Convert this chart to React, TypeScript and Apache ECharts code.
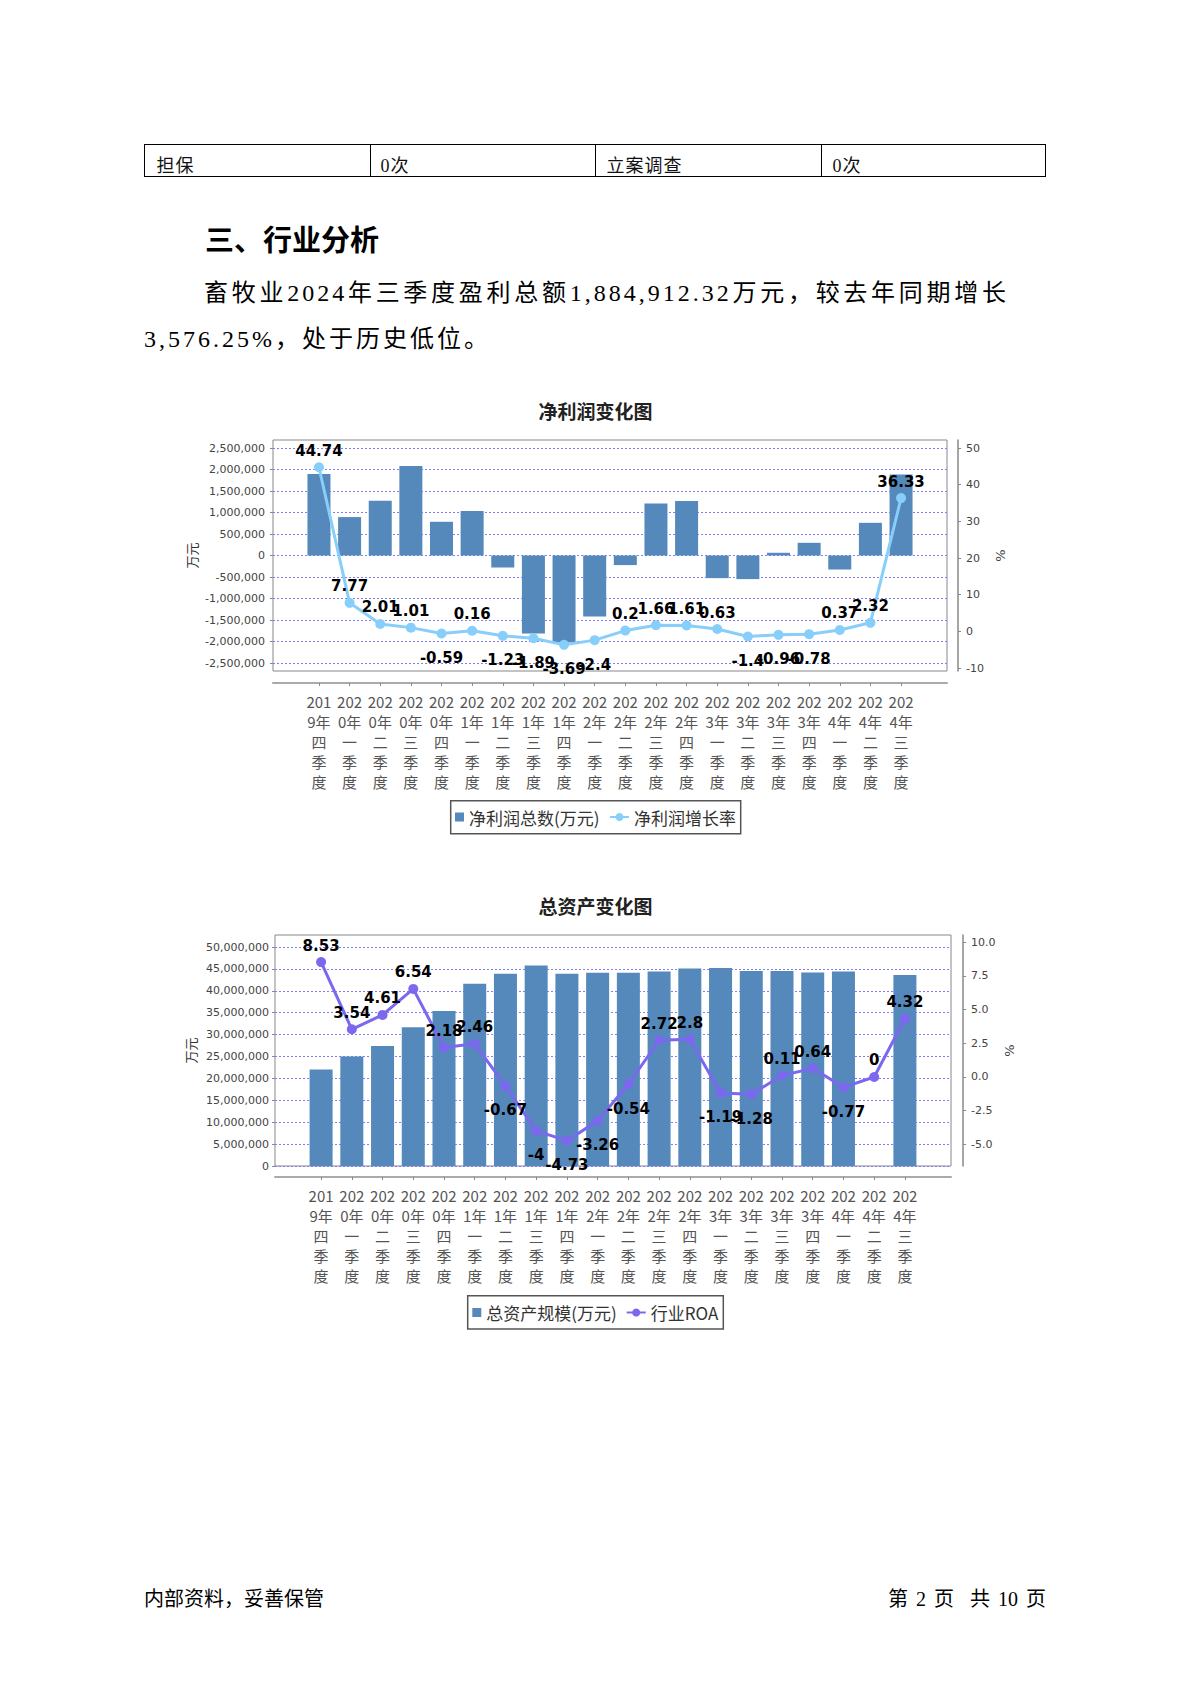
import React, { useEffect, useRef } from "react";
import * as echarts from "echarts";

const quarters = [
  "2019年四季度", "2020年一季度", "2020年二季度", "2020年三季度", "2020年四季度",
  "2021年一季度", "2021年二季度", "2021年三季度", "2021年四季度", "2022年一季度",
  "2022年二季度", "2022年三季度", "2022年四季度", "2023年一季度", "2023年二季度",
  "2023年三季度", "2023年四季度", "2024年一季度", "2024年二季度", "2024年三季度",
];

const netProfit = [
  1893000, 893000, 1272000, 2079000, 784000, 1033000, -279000, -1814000, -2025000, -1419000,
  -223000, 1209000, 1265000, -526000, -549000, 63000, 295000, -326000, 760000, 1884912.32,
];
const netProfitGrowth = [
  44.74, 7.77, 2.01, 1.01, -0.59, 0.16, -1.23, -1.89, -3.69, -2.4,
  0.2, 1.66, 1.61, 0.63, -1.4, -0.96, -0.78, 0.37, 2.32, 36.33,
];
const totalAssets = [
  22050000, 25000000, 27400000, 31700000, 35400000, 41600000, 43900000, 45800000, 43900000, 44100000,
  44100000, 44400000, 45100000, 45200000, 44500000, 44500000, 44200000, 44400000, null, 43600000,
];
const industryROA = [
  8.53, 3.54, 4.61, 6.54, 2.18, 2.46, -0.67, -4, -4.73, -3.26,
  -0.54, 2.72, 2.8, -1.19, -1.28, 0.11, 0.64, -0.77, 0, 4.32,
];

// [min, max, interval]
const profitAxisRange = [-2500000, 2500000, 500000];
const profitRateAxisRange = [-10, 50, 10];
const assetAxisRange = [0, 50000000, 5000000];
const roaAxisRange = [-5, 10, 2.5];

const CJK = "Noto Sans CJK SC";
const padded = [" ", ...quarters, "  "];
const pad = (arr: any[]) => [null, ...arr, null];
const thousands = (v: number) => String(v).replace(/\B(?=(\d{3})+(?!\d))/g, ",");

function wrapLabel(s: string) {
  const lines: string[] = [];
  let cur = "";
  let w = 0;
  for (const ch of s) {
    const cw = /[\u4e00-\u9fff]/.test(ch) ? 15 : 8.5;
    if (cur && w + cw > 28) {
      lines.push(cur);
      cur = ch;
      w = cw;
    } else {
      cur += ch;
      w += cw;
    }
  }
  if (cur) lines.push(cur);
  return lines.join("\n");
}

const chartDefs = [
  {
    title: "净利润变化图", titleTop: 400,
    barName: "净利润总数(万元)", lineName: "净利润增长率",
    bars: netProfit, line: netProfitGrowth,
    barRange: profitAxisRange, lineRange: profitRateAxisRange,
    lineColor: "#87cefa",
    frame: { left: 273, top: 440, width: 674, height: 231 },
    barGrid: { top: 448, height: 215 },
    lineGrid: { top: 448, height: 220 },
    xOffset: 12, rOffset: 11, leftNameGap: 75, rightNameGap: 36, leftMargin: 8,
    rightFmt: (v: number) => String(v),
    legend: { top: 807, barLeft: 455, lineLeft: 609, box: [450.7, 800.7, 290, 33] },
  },
  {
    title: "总资产变化图", titleTop: 895,
    barName: "总资产规模(万元)", lineName: "行业ROA",
    bars: totalAssets, line: industryROA,
    barRange: assetAxisRange, lineRange: roaAxisRange,
    lineColor: "#7b68ee",
    frame: { left: 275, top: 935, width: 676, height: 231 },
    barGrid: { top: 947, height: 219 },
    lineGrid: { top: 942.3, height: 202 },
    xOffset: 11, rOffset: 12, leftNameGap: 78, rightNameGap: 40, leftMargin: 6,
    rightFmt: (v: number) => v.toFixed(1),
    legend: { top: 1302.5, barLeft: 472.3, lineLeft: 625.7, box: [467.7, 1295.7, 255.6, 33.3] },
  },
];

function buildOption() {
  const grid: any[] = [];
  const xAxis: any[] = [];
  const yAxis: any[] = [];
  const series: any[] = [];
  const legend: any[] = [];
  const title: any[] = [];
  const graphic: any[] = [];

  chartDefs.forEach((c) => {
    const gi = grid.length;
    const yi = yAxis.length;
    const f = c.frame;
    grid.push({ left: f.left, width: f.width, top: c.barGrid.top, height: c.barGrid.height });
    grid.push({ left: f.left, width: f.width, top: c.lineGrid.top, height: c.lineGrid.height });
    grid.push({
      left: f.left, width: f.width, top: f.top, height: f.height,
      show: true, borderColor: "#888", borderWidth: 1, backgroundColor: "rgba(0,0,0,0)",
    });

    xAxis.push({ type: "category", gridIndex: gi, data: padded, show: false });
    xAxis.push({ type: "category", gridIndex: gi + 1, data: padded, show: false });
    xAxis.push({
      type: "category", gridIndex: gi + 2, data: padded, position: "bottom", offset: c.xOffset,
      axisLine: { show: true, onZero: false, lineStyle: { color: "#aaa", width: 2 } },
      axisTick: {
        show: true, alignWithLabel: true, length: 3,
        interval: (i: number) => i > 0 && i < padded.length - 1,
        lineStyle: { color: "#888" },
      },
      axisLabel: {
        interval: 0, formatter: wrapLabel, fontFamily: CJK, fontSize: 15, lineHeight: 20,
        color: "#555", margin: 8,
      },
      splitLine: { show: false },
    });

    yAxis.push({
      type: "value", gridIndex: gi, position: "left",
      min: c.barRange[0], max: c.barRange[1], interval: c.barRange[2],
      axisLine: { show: false },
      axisTick: { show: true, length: 3, lineStyle: { color: "#888" } },
      axisLabel: {
        fontFamily: "DejaVu Sans", fontSize: 11, color: "#444", margin: c.leftMargin,
        formatter: (v: number) => thousands(v),
      },
      splitLine: { show: true, lineStyle: { color: "#7f7fff", type: [2, 2], width: 1 } },
    });
    yAxis.push({
      type: "value", gridIndex: gi + 1, position: "right", offset: c.rOffset,
      min: c.lineRange[0], max: c.lineRange[1], interval: c.lineRange[2],
      axisLine: { show: false },
      axisTick: { show: true, length: 3, lineStyle: { color: "#888" } },
      axisLabel: { fontFamily: "DejaVu Sans", fontSize: 11, color: "#444", margin: 8, formatter: c.rightFmt },
      splitLine: { show: false },
    });
    yAxis.push({
      type: "value", gridIndex: gi + 2, position: "left", min: 0, max: 1,
      axisLine: { show: false }, axisTick: { show: false }, axisLabel: { show: false }, splitLine: { show: false },
      name: "万元", nameLocation: "middle", nameGap: c.leftNameGap, nameRotate: 90,
      nameTextStyle: { fontFamily: CJK, fontSize: 13, color: "#333" },
    });
    yAxis.push({
      type: "value", gridIndex: gi + 2, position: "right", offset: c.rOffset, min: 0, max: 1,
      axisLine: { show: true, lineStyle: { color: "#888", width: 1.5 } },
      axisTick: { show: false }, axisLabel: { show: false }, splitLine: { show: false },
      name: "%", nameLocation: "middle", nameGap: c.rightNameGap, nameRotate: 90,
      nameTextStyle: { fontFamily: "DejaVu Sans", fontSize: 13, color: "#444" },
    });

    series.push({
      type: "bar", name: c.barName, xAxisIndex: gi, yAxisIndex: yi,
      data: pad(c.bars), barWidth: 23,
      itemStyle: { color: "#5588bb" },
    });
    series.push({
      type: "line", name: c.lineName, xAxisIndex: gi + 1, yAxisIndex: yi + 1,
      data: pad(c.line).map((v) =>
        v == null ? null : { value: v, label: { position: v >= 0 ? "top" : "bottom", distance: v >= 0 ? 4 : 12 } }
      ),
      symbol: "circle", symbolSize: 10,
      lineStyle: { width: 3, color: c.lineColor },
      itemStyle: { color: c.lineColor },
      label: { show: true, fontFamily: "DejaVu Sans", fontWeight: "bold", fontSize: 15, color: "#000" },
      z: 5,
    });

    const lt = { fontFamily: CJK, fontSize: 17, color: "#333", lineHeight: 20 };
    legend.push({
      data: [{ name: c.barName, icon: "rect" }], left: c.legend.barLeft, top: c.legend.top,
      itemWidth: 9, itemHeight: 9, padding: 0, selectedMode: false, textStyle: lt,
    });
    legend.push({
      data: [c.lineName], left: c.legend.lineLeft, top: c.legend.top,
      itemWidth: 19, itemHeight: 10, padding: 0, selectedMode: false, textStyle: lt,
    });

    title.push({
      text: c.title, left: "center", top: c.titleTop, padding: 0,
      textStyle: { fontFamily: CJK, fontSize: 19, fontWeight: "bold", color: "#222", lineHeight: 20 },
    });

    const b = c.legend.box;
    graphic.push({
      type: "rect", shape: { x: b[0], y: b[1], width: b[2], height: b[3] },
      style: { fill: "none", stroke: "#555", lineWidth: 1.5 }, silent: true,
    });
  });

  return { animation: false, grid, xAxis, yAxis, series, legend, title, graphic };
}

function ChartLayer() {
  const ref = useRef<HTMLDivElement>(null);
  useEffect(() => {
    if (!ref.current) return;
    const chart = echarts.init(ref.current, undefined, { renderer: "svg" });
    chart.setOption(buildOption());
    return () => chart.dispose();
  }, []);
  return <div ref={ref} style={{ position: "absolute", left: 0, top: 0, width: 1191, height: 1684 }} />;
}

const docFont = "'Liberation Serif', 'Noto Sans CJK SC', serif";

export default function App() {
  const cell = (left: number, text: string) => (
    <div
      style={{
        position: "absolute", left, top: 0, height: 33, lineHeight: "33px", paddingTop: 5,
        boxSizing: "border-box", fontSize: 18, letterSpacing: 1, fontFamily: docFont, color: "#111",
      }}
    >
      {text}
    </div>
  );
  return (
    <div style={{ position: "absolute", left: 0, top: 0, width: 1191, height: 1684, background: "#fff", overflow: "hidden" }}>
      <ChartLayer />
      <div style={{ position: "absolute", left: 143.5, top: 143.5, width: 902.5, height: 33.5, border: "1.2px solid #000", boxSizing: "border-box" }}>
        <div style={{ position: "absolute", left: 225, top: 0, bottom: 0, borderLeft: "1.2px solid #000" }} />
        <div style={{ position: "absolute", left: 450.5, top: 0, bottom: 0, borderLeft: "1.2px solid #000" }} />
        <div style={{ position: "absolute", left: 676, top: 0, bottom: 0, borderLeft: "1.2px solid #000" }} />
        {cell(12, "担保")}
        {cell(236, "0次")}
        {cell(462, "立案调查")}
        {cell(688, "0次")}
      </div>
      <div
        style={{
          position: "absolute", left: 205, top: 218, height: 40, lineHeight: "40px",
          fontFamily: CJK, fontWeight: "bold", fontSize: 29, color: "#000", whiteSpace: "nowrap",
        }}
      >
        三、行业分析
      </div>
      <div
        style={{
          position: "absolute", left: 204, top: 270, width: 805, height: 46, lineHeight: "46px",
          fontFamily: docFont, fontSize: 24, letterSpacing: 3, color: "#000", textAlign: "justify",
          textAlignLast: "justify", whiteSpace: "nowrap",
        }}
      >
        畜牧业2024年三季度盈利总额1,884,912.32万元，较去年同期增长
      </div>
      <div
        style={{
          position: "absolute", left: 144, top: 316, height: 46, lineHeight: "46px",
          fontFamily: docFont, fontSize: 24, letterSpacing: 3, color: "#000", whiteSpace: "nowrap",
        }}
      >
        3,576.25%，处于历史低位。
      </div>
      <div
        style={{
          position: "absolute", left: 144, top: 1585, height: 28, lineHeight: "28px",
          fontFamily: docFont, fontSize: 20, color: "#000", whiteSpace: "nowrap",
        }}
      >
        内部资料，妥善保管
      </div>
      <div
        style={{
          position: "absolute", right: 1191 - 1046, top: 1585, height: 28, lineHeight: "28px",
          fontFamily: docFont, fontSize: 20, color: "#000", whiteSpace: "pre", wordSpacing: 3,
        }}
      >
        {"第 2 页  共 10 页"}
      </div>
    </div>
  );
}
